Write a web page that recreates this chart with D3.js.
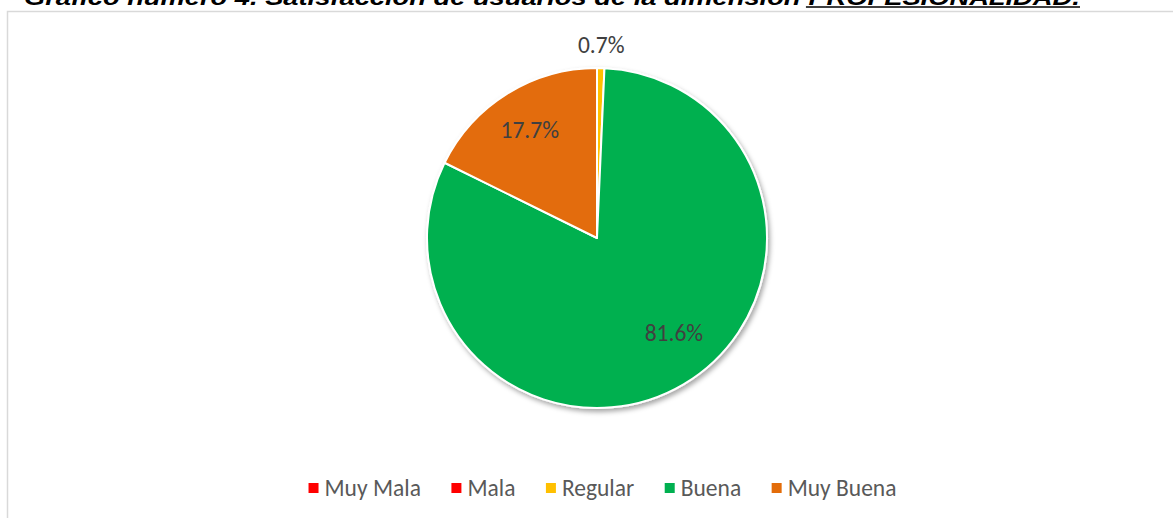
<!DOCTYPE html>
<html>
<head>
<meta charset="utf-8">
<script src="https://cdn.jsdelivr.net/npm/d3@7"></script>
<style>
  html, body { margin: 0; padding: 0; background: #fff; }
  svg { display: block; }
</style>
</head>
<body>
<svg id="chart" width="1173" height="518"></svg>
<script>
// ---- data ----
const categories = ["Muy Mala", "Mala", "Regular", "Buena", "Muy Buena"];
const values = [0, 0, 0.7, 81.6, 17.7];
const labels = ["", "", "0.7%", "81.6%", "17.7%"];
const colors = ["#FF0000", "#FF0000", "#FFC000", "#00B050", "#E36C09"];
const titleMain = "Gráfico número 4. Satisfacción de usuarios de la dimensión";
const titleUnder = "PROFESIONALIDAD.";

const W = 1173, H = 518;
const svg = d3.select("#chart");

// drop shadow filter
const defs = svg.append("defs");
const f = defs.append("filter").attr("id", "shadow")
  .attr("x", "-10%").attr("y", "-10%").attr("width", "130%").attr("height", "130%");
f.append("feDropShadow").attr("dx", 2).attr("dy", 3).attr("stdDeviation", 2.5)
  .attr("flood-color", "#000").attr("flood-opacity", 0.35);

// chart border (continues off-canvas to right and bottom)
svg.append("rect").attr("x", 7.5).attr("y", 11.5).attr("width", W + 20).attr("height", H + 20)
  .attr("fill", "#fff").attr("stroke", "#d9d9d9").attr("stroke-width", 1.5);

// title (cropped at top in the reference)
const titleFont = "'Liberation Sans Narrow', 'Arial Narrow', 'Liberation Sans', sans-serif";
const tg = svg.append("g");
const t1 = tg.append("text").attr("x", 0).attr("y", 5)
  .attr("font-family", titleFont).attr("font-size", 22).attr("font-weight", "bold")
  .attr("font-style", "italic").attr("fill", "#000").text(titleMain);
const w1 = t1.node().getComputedTextLength();
const spaceW = 6;
const t2 = tg.append("text").attr("x", w1 + spaceW).attr("y", 5)
  .attr("font-family", titleFont).attr("font-size", 22).attr("font-weight", "bold")
  .attr("font-style", "italic").attr("fill", "#000").text(titleUnder);
const w2 = t2.node().getComputedTextLength();
// fit to reference span (x 24 -> 1080)
const sc = (1080 - 24) / (w1 + spaceW + w2);
tg.attr("transform", `translate(24,0) scale(${sc},1)`);
tg.append("line").attr("x1", w1 + spaceW - 2).attr("x2", w1 + spaceW + w2)
  .attr("y1", 7).attr("y2", 7).attr("stroke", "#000").attr("stroke-width", 1.6);

// pie
const cx = 597, cy = 238, R = 170;
const pie = d3.pie().sort(null).value(d => d.v);
const data = categories.map((c, i) => ({ c, v: values[i], label: labels[i], color: colors[i] }));
const arcs = pie(data);
const arc = d3.arc().innerRadius(0).outerRadius(R);
const g = svg.append("g").attr("transform", `translate(${cx},${cy})`);
g.append("g").attr("filter", "url(#shadow)")
  .selectAll("path").data(arcs.filter(d => d.data.v > 0)).join("path")
  .attr("d", arc).attr("fill", d => d.data.color)
  .attr("stroke", "#fff").attr("stroke-width", 2).attr("stroke-linejoin", "round");

// labels (best-fit placement)
const labelFont = "'Carlito', 'Open Sans', sans-serif";
const labelRadius = { "Regular": 1.135, "Buena": 0.72, "Muy Buena": 0.75 };
const labelShift = { "Buena": -0.145 };
g.selectAll("text.lbl").data(arcs.filter(d => d.data.v > 0)).join("text")
  .attr("class", "lbl")
  .attr("transform", d => {
    const a = (d.startAngle + d.endAngle) / 2 + (labelShift[d.data.c] || 0);
    const r = R * (labelRadius[d.data.c] || 0.7);
    return `translate(${r * Math.sin(a)},${-r * Math.cos(a)})`;
  })
  .attr("text-anchor", "middle").attr("dominant-baseline", "central")
  .attr("font-family", labelFont).attr("font-size", 23.5).attr("fill", "#404040")
  .text(d => d.data.label);

// legend
const lg = svg.append("g");
const items = lg.selectAll("g").data(data).join("g");
items.append("rect").attr("width", 10).attr("height", 10).attr("y", -5)
  .attr("fill", d => d.color);
items.append("text").attr("x", 16).attr("y", 0).attr("dominant-baseline", "central")
  .attr("font-family", labelFont).attr("font-size", 23.5).attr("fill", "#595959")
  .text(d => d.c);
let xpos = 0;
const gap = 30.5;
items.each(function () {
  const tw = d3.select(this).select("text").node().getComputedTextLength();
  d3.select(this).attr("transform", `translate(${xpos},488)`);
  xpos += 16 + tw + gap;
});
const totalW = xpos - gap;
lg.attr("transform", `translate(${602.5 - totalW / 2},0)`);
</script>
</body>
</html>
